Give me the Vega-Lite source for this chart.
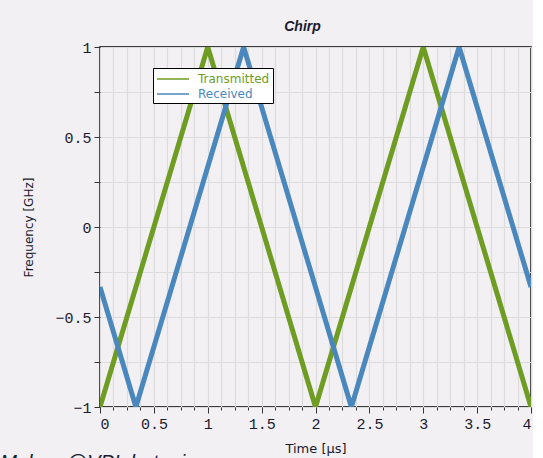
{
  "$schema": "https://vega.github.io/schema/vega-lite/v6.json",
  "background": "#f2f0f3",
  "padding": {"left": 0, "top": 19, "right": 0, "bottom": 0},
  "title": {
    "text": "Maker: @VPIphotonics",
    "orient": "bottom",
    "anchor": "start",
    "frame": "bounds",
    "font": "Liberation Sans",
    "fontStyle": "italic",
    "fontWeight": "normal",
    "fontSize": 20,
    "color": "#1a1a2e",
    "dx": -22,
    "offset": -3
  },
  "vconcat": [
    {
      "width": 431,
      "height": 360,
      "title": {
        "text": "Chirp",
        "anchor": "middle",
        "frame": "group",
        "font": "Liberation Sans",
        "fontStyle": "italic",
        "fontWeight": "bold",
        "fontSize": 14,
        "color": "#1a1a2e",
        "dx": -13,
        "offset": 6
      },
      "data": {
        "values": [
          {"t": 0, "f": -1, "signal": "Transmitted"},
          {"t": 1, "f": 1, "signal": "Transmitted"},
          {"t": 2, "f": -1, "signal": "Transmitted"},
          {"t": 3, "f": 1, "signal": "Transmitted"},
          {"t": 4, "f": -1, "signal": "Transmitted"},
          {"t": 0, "f": -0.333, "signal": "Received"},
          {"t": 0.333, "f": -1, "signal": "Received"},
          {"t": 1.333, "f": 1, "signal": "Received"},
          {"t": 2.333, "f": -1, "signal": "Received"},
          {"t": 3.333, "f": 1, "signal": "Received"},
          {"t": 4, "f": -0.333, "signal": "Received"}
        ]
      },
      "mark": {"type": "line", "strokeWidth": 5, "clip": true},
      "encoding": {
        "x": {
          "field": "t",
          "type": "quantitative",
          "scale": {"domain": [0, 4], "nice": false, "zero": false},
          "axis": {
            "title": "Time [µs]",
            "values": [0, 0.125, 0.25, 0.375, 0.5, 0.625, 0.75, 0.875, 1, 1.125, 1.25, 1.375, 1.5, 1.625, 1.75, 1.875, 2, 2.125, 2.25, 2.375, 2.5, 2.625, 2.75, 2.875, 3, 3.125, 3.25, 3.375, 3.5, 3.625, 3.75, 3.875, 4],
            "format": "~g",
            "labelExpr": "datum.value % 0.5 === 0 ? datum.label : ''",
            "tickSize": {"condition": {"test": "datum.value % 0.5 === 0", "value": 6}, "value": 3},
            "titlePadding": 11,
            "titleFontSize": 13
          }
        },
        "y": {
          "field": "f",
          "type": "quantitative",
          "scale": {"domain": [-1, 1], "nice": false, "zero": false},
          "axis": {
            "title": "Frequency [GHz]",
            "values": [-1, -0.75, -0.5, -0.25, 0, 0.25, 0.5, 0.75, 1],
            "format": "~g",
            "labelExpr": "datum.value % 0.5 === 0 ? datum.label : ''",
            "tickSize": 6,
            "titlePadding": 19
          }
        },
        "color": {
          "field": "signal",
          "type": "nominal",
          "sort": ["Transmitted", "Received"],
          "scale": {"domain": ["Transmitted", "Received"], "range": ["#6f9c23", "#4a87bd"]},
          "legend": {
            "title": null,
            "orient": "none",
            "legendX": 53,
            "legendY": 21,
            "symbolType": "M-2.2857,0H2.2857",
            "symbolSize": 196,
            "symbolOffset": 9,
            "symbolStrokeWidth": 1.5,
            "labelFont": "DejaVu Sans",
            "labelFontSize": 12,
            "padding": 3,
            "rowPadding": 1,
            "labelOffset": 17,
            "strokeColor": "#000000",
            "fillColor": "#ffffff",
            "encode": {
              "labels": {"update": {"fill": {"scale": "color", "field": "value"}}}
            }
          }
        }
      }
    }
  ],
  "config": {
    "view": {"stroke": "#000000", "strokeWidth": 1.5, "fill": "#f2f0f3"},
    "axis": {
      "domain": false,
      "grid": true,
      "gridColor": "#dcdcdc",
      "gridWidth": 1.2,
      "tickColor": "#333333",
      "tickWidth": 1,
      "labelFont": "Liberation Mono",
      "labelFontSize": 15,
      "labelColor": "#1a1a2e",
      "labelPadding": 3,
      "titleFont": "DejaVu Sans",
      "titleFontSize": 12,
      "titleFontWeight": "normal",
      "titleColor": "#1a1a2e"
    }
  }
}
